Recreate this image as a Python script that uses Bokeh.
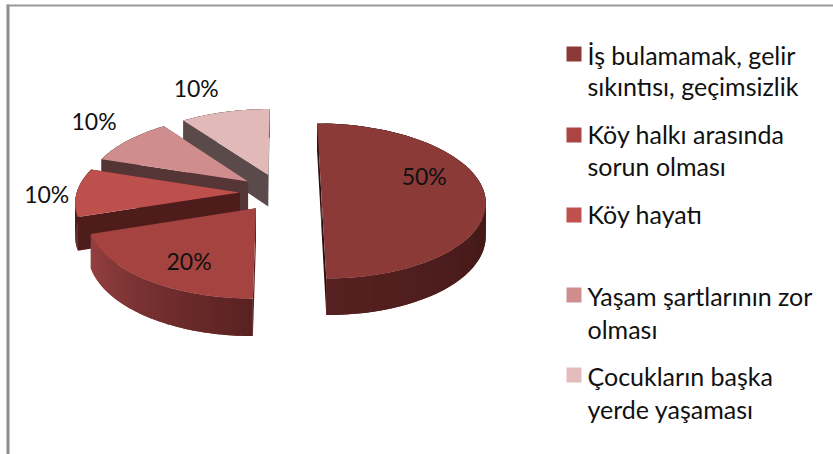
import numpy as np
from bokeh.plotting import figure
from bokeh.models import Range1d
from bokeh.core.properties import value
from bokeh.embed import file_html
from bokeh.resources import INLINE

# ---- data ----
categories = [
    ["İş bulamamak, gelir", "sıkıntısı, geçimsizlik"],
    ["Köy halkı arasında", "sorun olması"],
    ["Köy hayatı"],
    ["Yaşam şartlarının zor", "olması"],
    ["Çocukların başka", "yerde yaşaması"],
]
shares = [50, 20, 10, 10, 10]
labels = ["50%", "20%", "10%", "10%", "10%"]

# ---- styles ----
top_colors = ["#8c3a38", "#a54341", "#bd504d", "#cf8e8d", "#e0b9b8"]
legend_colors = ["#8c3a38", "#ab4543", "#c0504d", "#cf8e8d", "#e3bcbb"]
wall_start = ["#2c1010", "#5a2121", "#4f1c1c", "#553535", "#5a4a4a"]
wall_end = ["#562020", "#964141", "#4f1c1c", "#553535", "#5a4a4a"]
radial_colors = ["#2a0f0f", "#5a2121", "#4f1c1c", "#553535", "#5a4a4a"]

# ---- layout of the projected pie ----
CX, CY, A, B, PERSP, EXPLODE, DEPTH = 280.0, 192.0, 163.0, 76.6, 0.11, 0.25, 32.5
label_offsets = [(103, -17), (-67, 53), (-193, 1), (-154, -60), (-72, -87)]
legend_rows = [46, 127, 207, 287, 367]
legend_line_offsets = [(8, 39), (6, 38), (6,), (8, 41), (8, 41)]


def project(X, Y, drop=0.0):
    w = 1.0 / (1.0 + PERSP * np.asarray(Y, dtype=float))
    return CX + A * np.asarray(X) * w, CY - B * np.asarray(Y) * w + drop * w


def hex_mix(c0, c1, t):
    a = [int(c0[i:i + 2], 16) for i in (1, 3, 5)]
    b = [int(c1[i:i + 2], 16) for i in (1, 3, 5)]
    return "#%02x%02x%02x" % tuple(round(p + (q - p) * t) for p, q in zip(a, b))


xs, ys, cols = [], [], []


def add(px, py, col):
    xs.append(list(map(float, px)))
    ys.append(list(map(float, py)))
    cols.append(col)


def quad(X, Y, col):
    x0, y0 = project(X, Y)
    x1, y1 = project(X, Y, DEPTH)
    add(np.r_[x0, x1[::-1]], np.r_[y0, y1[::-1]], col)


edges = np.cumsum([0] + shares) / sum(shares) * 2 * np.pi
apexes = []
for i in range(len(shares)):
    a0, a1 = edges[i], edges[i + 1]
    mid = (a0 + a1) / 2
    ax, ay = EXPLODE * np.sin(mid), EXPLODE * np.cos(mid)
    apexes.append(project(ax, ay))

for i in reversed(range(len(shares))):
    a0, a1 = edges[i], edges[i + 1]
    mid = (a0 + a1) / 2
    ax, ay = EXPLODE * np.sin(mid), EXPLODE * np.cos(mid)
    th = np.linspace(a0, a1, 61)
    X, Y = ax + np.sin(th), ay + np.cos(th)
    # radial walls
    quad(np.array([ax, X[-1]]), np.array([ay, Y[-1]]), radial_colors[i])
    quad(np.array([ax, X[0]]), np.array([ay, Y[0]]), radial_colors[i])
    # curved outer wall, strips painted in order with an overlap so no seam shows
    for k in range(len(th) - 1):
        quad(X[k:k + 3], Y[k:k + 3], hex_mix(wall_start[i], wall_end[i], k / (len(th) - 2)))
    # top face
    px, py = project(np.r_[ax, X], np.r_[ay, Y])
    add(px, py, top_colors[i])

p = figure(width=833, height=454, output_backend="svg", toolbar_location=None,
           x_range=Range1d(0, 833), y_range=Range1d(454, 0), min_border=0)
p.xaxis.visible = False
p.yaxis.visible = False
p.grid.visible = False
p.outline_line_color = None
p.background_fill_color = "white"

# frame lines
p.quad(left=[6, 6], right=[9, 833], top=[4, 4], bottom=[454, 6],
       fill_color=["#8c8c8c", "#999999"], line_color=None)

p.patches(xs, ys, fill_color=cols, line_color=None)

# data labels
lx = [float(apexes[i][0]) + label_offsets[i][0] for i in range(len(labels))]
ly = [float(apexes[i][1]) + label_offsets[i][1] for i in range(len(labels))]
p.text(lx, ly, text=labels, text_font=value("Lato"), text_font_size="23px",
       text_align="center", text_baseline="middle", text_color="#111111")

# legend
p.quad(left=[566] * 5, right=[581] * 5, top=legend_rows,
       bottom=[r + 15 for r in legend_rows], fill_color=legend_colors, line_color=None)
tx, ty, tt = [], [], []
for row, lines, offs in zip(legend_rows, categories, legend_line_offsets):
    for line, off in zip(lines, offs):
        tx.append(587)
        ty.append(row + off)
        tt.append(line)
p.text(tx, ty, text=tt, text_font=value("Lato"), text_font_size="25px",
       text_align="left", text_baseline="middle", text_color="#111111")

open("out.html", "w").write(file_html(p, INLINE))
